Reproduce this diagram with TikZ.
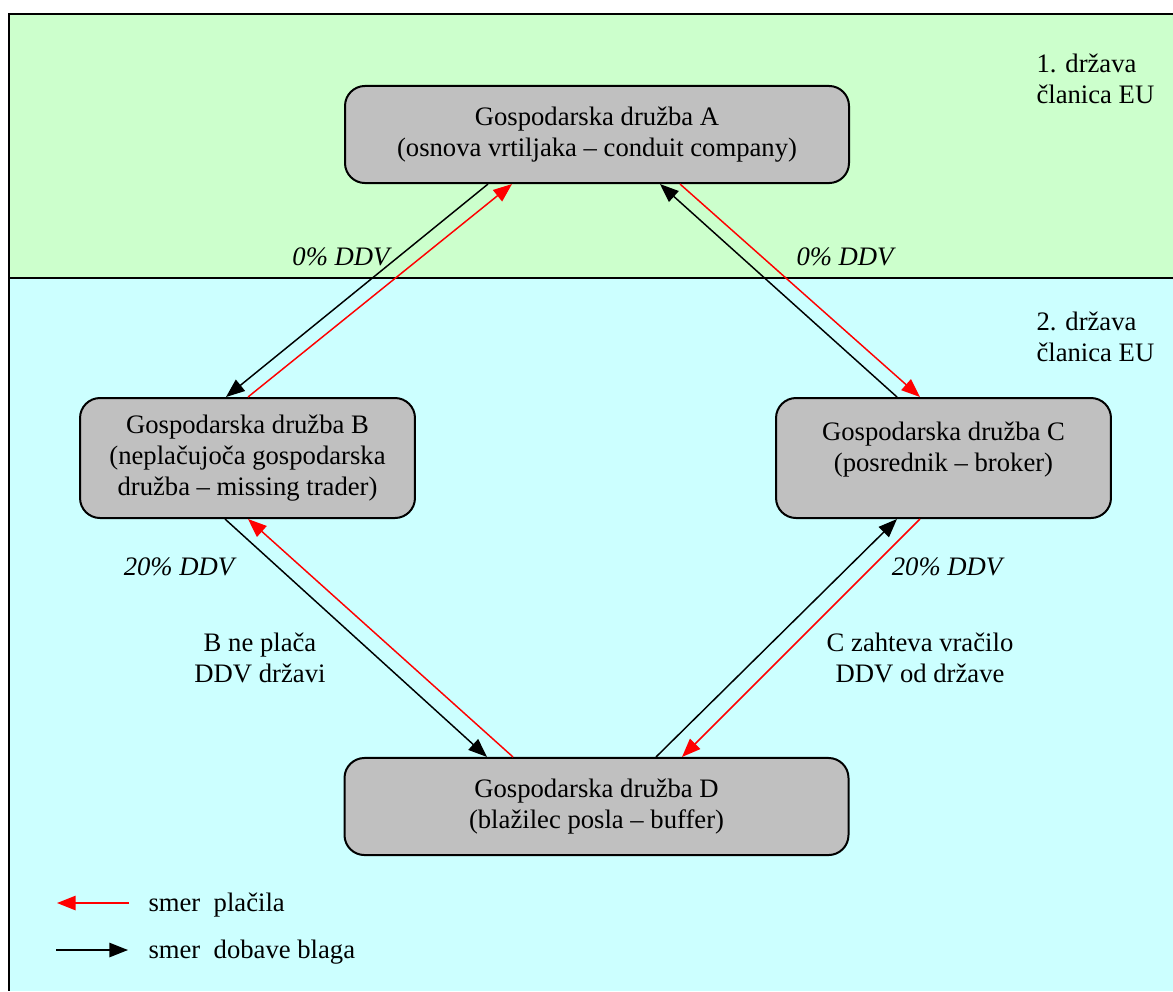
\documentclass[tikz,border=0pt]{standalone}
\usepackage{fontspec}
\setmainfont{Liberation Serif}
\usetikzlibrary{arrows.meta,calc}
\definecolor{zoneone}{HTML}{CCFFCC}
\definecolor{zonetwo}{HTML}{CCFFFF}
\definecolor{firmgray}{HTML}{C0C0C0}
\tikzset{
  font=\fontsize{10}{11.6}\selectfont,
  >={Triangle[length=7pt,width=5.4pt]},
  frame/.style={draw=black, line width=0.75pt},
  firm/.style={draw=black, line width=0.75pt, fill=firmgray, rounded corners=7.5pt,
    align=center, inner sep=0pt, minimum width=189pt, minimum height=36.4pt},
  firmtall/.style={firm, minimum width=125.6pt, minimum height=45pt},
  goods/.style={draw=black, line width=0.55pt, ->},
  pay/.style={draw=red, line width=0.55pt, ->},
  tax/.style={font=\fontsize{10}{11.6}\selectfont\itshape, inner sep=0pt},
  note/.style={align=center, inner sep=0pt},
  state/.style={align=left, inner sep=0pt, anchor=north west},
  legend/.style={anchor=west, inner sep=0pt},
}

\begin{document}
\begin{tikzpicture}[x=0.375pt,y=-0.375pt]
\useasboundingbox (0,0) rectangle (1173,991);
\fill[white] (0,0) rectangle (1173,991);
% member states
\fill[zoneone] (9,14) rectangle (1173,278);
\fill[zonetwo] (9,278) rectangle (1173,991);
\draw[frame] (8,14) -- (1173,14);
\draw[frame] (9,14) -- (9,991);
\draw[frame] (9,278) -- (1173,278);
\node[state] (s1) at (1036,53) {1. država\\članica EU};
\node[state] (s2) at (1036,311) {2. država\\članica EU};
% companies
\node[firm] (A) at (597,134.5) {Gospodarska družba A\\(osnova vrtiljaka – conduit company)};
\node[firmtall] (B) at (247.5,458) {Gospodarska družba B\\(neplačujoča gospodarska\\družba – missing trader)};
\node[firmtall] (C) at (943.5,458) {Gospodarska družba C\\(posrednik – broker)\\[-3pt]\mbox{}};
\node[firm] (D) at (596.5,806.5) {Gospodarska družba D\\(blažilec posla – buffer)};
% goods (black) and payments (red)
\draw[goods] ($(A.south)+(-109,0)$) -- ($(B.north)+(-21.5,0)$);
\draw[pay]   ($(B.north)+(0.5,0)$) -- ($(A.south)+(-85,0)$);
\draw[goods] ($(C.north)+(-46.5,0)$) -- ($(A.south)+(63,0)$);
\draw[pay]   ($(A.south)+(83,0)$) -- ($(C.north)+(-23.5,0)$);
\draw[goods] ($(B.south)+(-22.5,0)$) -- ($(D.north)+(-109.5,0)$);
\draw[pay]   ($(D.north)+(-83.5,0)$) -- ($(B.south)+(0.5,0)$);
\draw[goods] ($(D.north)+(59.5,0)$) -- ($(C.south)+(-46.5,0)$);
\draw[pay]   ($(C.south)+(-23.5,0)$) -- ($(D.north)+(85.5,0)$);
% VAT rates
\node[tax] (tAB) at (341,257) {0\% DDV};
\node[tax] (tAC) at (845,257) {0\% DDV};
\node[tax] (tBD) at (179,567) {20\% DDV};
\node[tax] (tCD) at (947,567) {20\% DDV};
\node[note] (nB) at (260,658) {B ne plača\\DDV državi};
\node[note] (nC) at (920,658) {C zahteva vračilo\\DDV od države};
% legend
\coordinate (payR) at (129,903);
\coordinate (payL) at (57,903);
\coordinate (goodsL) at (56,950);
\coordinate (goodsR) at (128,950);
\draw[pay] (payR) -- (payL);
\draw[goods] (goodsL) -- (goodsR);
\node[legend] (lpay) at (148,905) {smer\enspace plačila};
\node[legend] (lgoods) at (148,952) {smer\enspace dobave blaga};
\end{tikzpicture}
\end{document}
